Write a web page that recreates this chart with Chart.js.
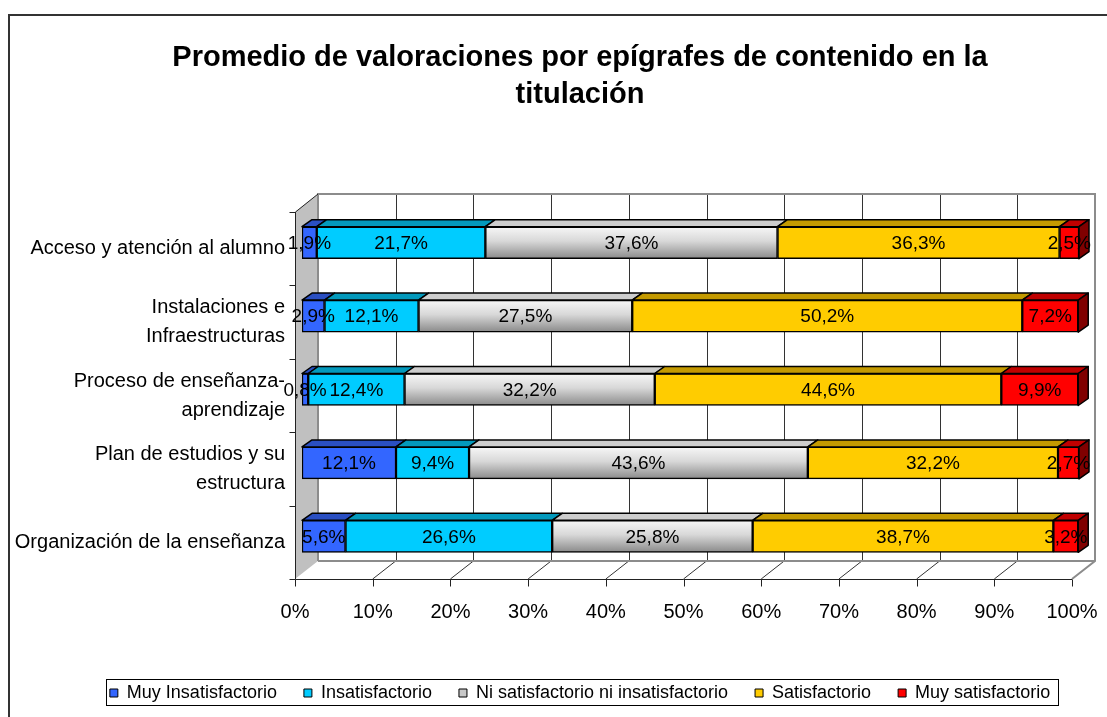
<!DOCTYPE html>
<html lang="es">
<head>
<meta charset="utf-8">
<title>Promedio de valoraciones por epígrafes</title>
<script src="https://cdn.jsdelivr.net/npm/chart.js@4.4.1/dist/chart.umd.min.js"></script>
<style>
    html, body { margin: 0; padding: 0; background: #fff; overflow: hidden; }
    canvas { display: block; }
</style>
</head>
<body>
<canvas id="graficoValoraciones" width="1107" height="717"></canvas>
<script>
const categorias = [
    "Acceso y atención al alumno",
    ["Instalaciones e", "Infraestructuras"],
    ["Proceso de enseñanza-", "aprendizaje"],
    ["Plan de estudios y su", "estructura"],
    "Organización de la enseñanza"
];
const series = [
    "Muy Insatisfactorio",
    "Insatisfactorio",
    "Ni satisfactorio ni insatisfactorio",
    "Satisfactorio",
    "Muy satisfactorio"
];
const muyInsatisfactorio = [1.9, 2.9, 0.8, 12.1, 5.6];
const insatisfactorio = [21.7, 12.1, 12.4, 9.4, 26.6];
const niSatisfactorio = [37.6, 27.5, 32.2, 43.6, 25.8];
const satisfactorio = [36.3, 50.2, 44.6, 32.2, 38.7];
const muySatisfactorio = [2.5, 7.2, 9.9, 2.7, 3.2];
const etiquetasX = ["0%", "10%", "20%", "30%", "40%", "50%", "60%", "70%", "80%", "90%", "100%"];

const FUENTE = "'Liberation Sans', Arial, sans-serif";
// desplazamientos del efecto 3D (plano frontal, pared de fondo, fondo de la barra)
const FRENTE = { dx: -7, dy: 6 };
const FONDO = { dx: 16, dy: -12 };
const PROF = { dx: 10, dy: -7 };
const coloresTapa = ["#2A4FC2", "#0399BC", "#CDCDCD", "#C49A00", "#C00000"];

Chart.defaults.font.family = FUENTE;
Chart.defaults.color = "#000";

function degradadoGris(context) {
    const chart = context.chart;
    const escalaY = chart.scales && chart.scales.y;
    if (!escalaY || context.dataIndex === undefined) return "#C8C8C8";
    const yc = escalaY.getPixelForValue(context.dataIndex);
    if (!isFinite(yc)) return "#C8C8C8";
    const g = chart.ctx.createLinearGradient(0, yc - 16, 0, yc + 16);
    g.addColorStop(0, "#F7F7F7");
    g.addColorStop(0.45, "#D8D8D8");
    g.addColorStop(1, "#8A8A8A");
    return g;
}

const marco3d = {
    id: "marco3d",
    beforeDraw(chart) {
        const ctx = chart.ctx;
        ctx.save();
        ctx.strokeStyle = "#333";
        ctx.lineWidth = 2;
        ctx.beginPath();
        ctx.moveTo(9, 717);
        ctx.lineTo(9, 15);
        ctx.lineTo(1107, 15);
        ctx.stroke();
        ctx.restore();
    },
    beforeDatasetsDraw(chart) {
        const { ctx, chartArea: a, scales: { x } } = chart;
        const valores = x.ticks.map(t => t.value);
        ctx.save();

        // pared izquierda
        ctx.fillStyle = "#C0C0C0";
        ctx.beginPath();
        ctx.moveTo(a.left + FRENTE.dx, a.top + FRENTE.dy);
        ctx.lineTo(a.left + FONDO.dx, a.top + FONDO.dy);
        ctx.lineTo(a.left + FONDO.dx, a.bottom + FONDO.dy);
        ctx.lineTo(a.left + FRENTE.dx, a.bottom + FRENTE.dy);
        ctx.closePath();
        ctx.fill();

        // rejilla en la pared de fondo
        ctx.strokeStyle = "#333";
        ctx.lineWidth = 1;
        valores.forEach(v => {
            if (v === 0 || v === 100) return;
            const px = Math.round(x.getPixelForValue(v) + FONDO.dx) + 0.5;
            ctx.beginPath();
            ctx.moveTo(px, a.top + FONDO.dy);
            ctx.lineTo(px, a.bottom + FONDO.dy);
            ctx.stroke();
        });

        // suelo: diagonales
        valores.forEach(v => {
            if (v === 0 || v === 100) return;
            const p = x.getPixelForValue(v);
            ctx.beginPath();
            ctx.moveTo(p + FRENTE.dx, a.bottom + FRENTE.dy);
            ctx.lineTo(p + FONDO.dx, a.bottom + FONDO.dy);
            ctx.stroke();
        });

        // bordes grises de la pared de fondo
        ctx.strokeStyle = "#8C8C8C";
        ctx.lineWidth = 2;
        ctx.beginPath();
        ctx.moveTo(a.left + FONDO.dx, a.bottom + FONDO.dy);
        ctx.lineTo(a.left + FONDO.dx, a.top + FONDO.dy);
        ctx.lineTo(a.right + FONDO.dx, a.top + FONDO.dy);
        ctx.lineTo(a.right + FONDO.dx, a.bottom + FONDO.dy);
        ctx.lineTo(a.right + FRENTE.dx, a.bottom + FRENTE.dy);
        ctx.moveTo(a.left + FONDO.dx, a.bottom + FONDO.dy);
        ctx.lineTo(a.right + FONDO.dx, a.bottom + FONDO.dy);
        ctx.stroke();

        // ejes frontales
        ctx.strokeStyle = "#222";
        ctx.lineWidth = 1;
        const ax = Math.round(a.left + FRENTE.dx) + 0.5;
        const ay = Math.round(a.bottom + FRENTE.dy) + 0.5;
        ctx.beginPath();
        ctx.moveTo(ax, a.top + FRENTE.dy);
        ctx.lineTo(ax, ay);
        ctx.lineTo(a.right + FRENTE.dx, ay);
        ctx.moveTo(ax, a.top + FRENTE.dy);
        ctx.lineTo(a.left + FONDO.dx, a.top + FONDO.dy);
        valores.forEach(v => {
            const px = Math.round(x.getPixelForValue(v) + FRENTE.dx) + 0.5;
            ctx.moveTo(px, ay);
            ctx.lineTo(px, ay + 7);
        });
        const n = categorias.length;
        for (let i = 0; i <= n; i++) {
            const py = Math.round(a.top + FRENTE.dy + i * a.height / n) + 0.5;
            ctx.moveTo(ax - 6, py);
            ctx.lineTo(ax, py);
        }
        ctx.stroke();
        ctx.restore();
    },
    afterDatasetsDraw(chart) {
        const ctx = chart.ctx;
        const ultimo = chart.data.datasets.length - 1;
        ctx.save();
        ctx.strokeStyle = "#000";
        ctx.lineWidth = 1.5;
        ctx.lineJoin = "round";
        chart.data.datasets.forEach((ds, i) => {
            chart.getDatasetMeta(i).data.forEach(barra => {
                const { x, base, y, height } = barra.getProps(["x", "base", "y", "height"], true);
                const arriba = y - height / 2;
                const abajo = y + height / 2;
                ctx.fillStyle = coloresTapa[i];
                ctx.beginPath();
                ctx.moveTo(base, arriba);
                ctx.lineTo(base + PROF.dx, arriba + PROF.dy);
                ctx.lineTo(x + PROF.dx, arriba + PROF.dy);
                ctx.lineTo(x, arriba);
                ctx.closePath();
                ctx.fill();
                ctx.stroke();
                if (i === ultimo) {
                    ctx.fillStyle = "#800000";
                    ctx.beginPath();
                    ctx.moveTo(x, arriba);
                    ctx.lineTo(x + PROF.dx, arriba + PROF.dy);
                    ctx.lineTo(x + PROF.dx, abajo + PROF.dy);
                    ctx.lineTo(x, abajo);
                    ctx.closePath();
                    ctx.fill();
                    ctx.stroke();
                }
            });
        });

        // porcentajes dentro de cada tramo
        ctx.font = "19px " + FUENTE;
        ctx.fillStyle = "#000";
        ctx.textAlign = "center";
        ctx.textBaseline = "middle";
        chart.data.datasets.forEach((ds, i) => {
            chart.getDatasetMeta(i).data.forEach((barra, j) => {
                const { x, base, y } = barra.getProps(["x", "base", "y"], true);
                const texto = ds.data[j].toFixed(1).replace(".", ",") + "%";
                ctx.fillText(texto, (x + base) / 2, y + 1);
            });
        });
        ctx.restore();
    },
    afterDraw(chart) {
        const cajas = chart.legend && chart.legend.legendHitBoxes;
        if (!cajas || !cajas.length) return;
        const izq = Math.min(...cajas.map(c => c.left));
        const der = Math.max(...cajas.map(c => c.left + c.width));
        const arr = cajas[0].top;
        const ctx = chart.ctx;
        ctx.save();
        ctx.strokeStyle = "#000";
        ctx.lineWidth = 1;
        ctx.strokeRect(Math.round(izq - 4) + 0.5, Math.round(arr - 5) + 0.5, Math.round(der - izq + 12), 26);
        ctx.restore();
    }
};

const ctx = document.getElementById("graficoValoraciones").getContext("2d");

new Chart(ctx, {
    type: "bar",
    data: {
        labels: categorias,
        datasets: [
            { label: series[0], data: muyInsatisfactorio, backgroundColor: "#3366FF" },
            { label: series[1], data: insatisfactorio, backgroundColor: "#00CCFF" },
            { label: series[2], data: niSatisfactorio, backgroundColor: degradadoGris },
            { label: series[3], data: satisfactorio, backgroundColor: "#FFCC00" },
            { label: series[4], data: muySatisfactorio, backgroundColor: "#FF0000" }
        ]
    },
    options: {
        indexAxis: "y",
        responsive: false,
        animation: false,
        // el título del original no está centrado en el lienzo: se compensa con relleno negativo a la derecha
        layout: {
            padding: { left: 12, right: -41, top: 0, bottom: 5 }
        },
        datasets: {
            bar: {
                barThickness: 32,
                borderColor: "#000",
                borderWidth: 1.5,
                borderSkipped: false
            }
        },
        scales: {
            x: {
                stacked: true,
                min: 0,
                max: 100,
                grid: { display: false, drawTicks: false },
                border: { display: false },
                ticks: {
                    stepSize: 10,
                    padding: 27,
                    labelOffset: -7,
                    maxRotation: 0,
                    font: { size: 20 },
                    callback: (v, i) => etiquetasX[i]
                },
                afterFit: s => {
                    s.height = 84;
                    s.paddingLeft = 0;
                    s.paddingRight = 0;
                }
            },
            y: {
                stacked: true,
                grid: { display: false, drawTicks: false },
                border: { display: false },
                ticks: {
                    padding: 17,
                    labelOffset: 6,
                    font: { size: 20, lineHeight: 1.45 }
                },
                afterFit: s => {
                    s.width = 290;
                    s.paddingTop = 0;
                    s.paddingBottom = 0;
                }
            },
            // eje vacío a la derecha, solo reserva el hueco
            relleno: {
                type: "linear",
                position: "right",
                display: true,
                grid: { display: false, drawTicks: false },
                border: { display: false },
                ticks: { display: false },
                afterFit: s => {
                    s.width = 69;
                    s.paddingTop = 0;
                    s.paddingBottom = 0;
                }
            }
        },
        plugins: {
            title: {
                display: true,
                text: ["Promedio de valoraciones por epígrafes de contenido en la", "titulación"],
                font: { size: 29, weight: "bold", lineHeight: 1.276 },
                color: "#000",
                padding: { top: 39, bottom: 93 }
            },
            legend: {
                position: "bottom",
                labels: {
                    boxWidth: 8,
                    boxHeight: 8,
                    padding: 27,
                    font: { size: 18 },
                    generateLabels: chart => {
                        const items = Chart.defaults.plugins.legend.labels.generateLabels(chart);
                        items.forEach(it => {
                            if (it.datasetIndex === 2) it.fillStyle = "#C8C8C8";
                            it.lineWidth = 1;
                        });
                        return items;
                    }
                }
            },
            tooltip: { enabled: false }
        }
    },
    plugins: [marco3d]
});
</script>
</body>
</html>
